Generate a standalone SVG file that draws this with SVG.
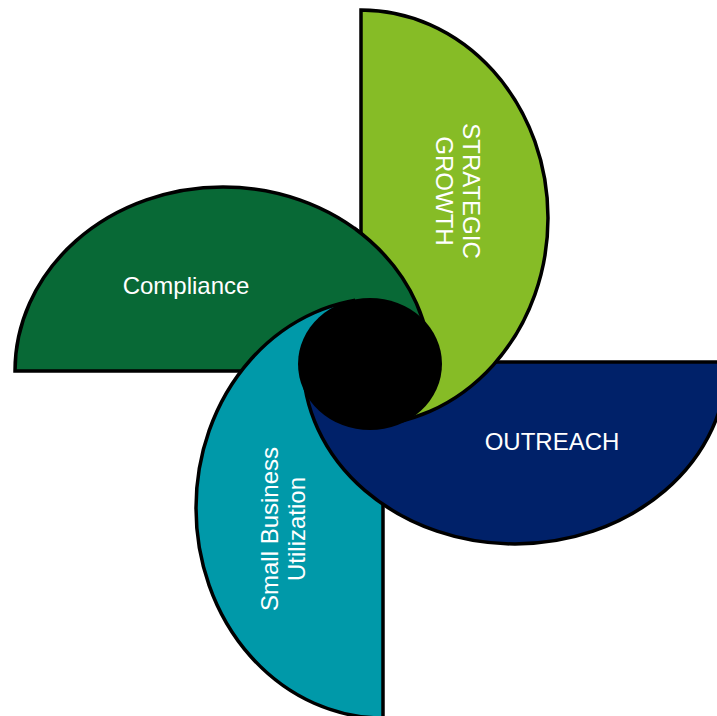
<svg xmlns="http://www.w3.org/2000/svg" xmlns:xlink="http://www.w3.org/1999/xlink" width="717" height="716" viewBox="0 0 717 716">
  <style>
    .blade { stroke: #000; stroke-width: 3.5; stroke-linejoin: miter; }
    .lbl { font-family: "Liberation Sans", Arial, sans-serif; font-size: 24px; fill: #fff; text-anchor: middle; }
  </style>
  <defs>
    <!-- half-ellipse blades, each flat edge pointing at the hub -->
    <path id="shape-compliance" d="M15,371 A208,184 0 0 1 431,371 Z"/>
    <path id="shape-small" d="M383,718 A187,210 0 0 1 383,298 Z"/>
    <path id="shape-outreach" d="M727,362 A212,182 0 0 1 303,362 Z"/>
    <path id="shape-growth" d="M361,10 A187,208 0 0 1 361,426 Z"/>
    <!-- right-hand strip used to lay the compliance blade back over the growth blade -->
    <clipPath id="clip-right">
      <rect x="355" y="0" width="362" height="400"/>
    </clipPath>
  </defs>

  <rect width="717" height="716" fill="#fff"/>

  <g id="compliance">
    <use xlink:href="#shape-compliance" class="blade" fill="#086936"/>
    <text class="lbl" x="186" y="294">Compliance</text>
  </g>

  <g id="small-business">
    <use xlink:href="#shape-small" class="blade" fill="#0099A9"/>
    <g transform="translate(291.5,529) rotate(-90)">
      <text class="lbl" x="0" y="-13.5">Small Business</text>
      <text class="lbl" x="0" y="13.5">Utilization</text>
    </g>
  </g>

  <g id="outreach">
    <use xlink:href="#shape-outreach" class="blade" fill="#002169"/>
    <text class="lbl" x="552" y="450">OUTREACH</text>
  </g>

  <g id="strategic-growth">
    <use xlink:href="#shape-growth" class="blade" fill="#86BC26"/>
    <g transform="translate(449.5,191) rotate(90)">
      <text class="lbl" x="0" y="-13.5">STRATEGIC</text>
      <text class="lbl" x="0" y="13.5">GROWTH</text>
    </g>
  </g>

  <!-- compliance blade overlaps the growth blade -->
  <use id="compliance-overlap" xlink:href="#shape-compliance" class="blade" fill="#086936" clip-path="url(#clip-right)"/>

  <g id="hub">
    <ellipse cx="370" cy="364" rx="72" ry="66" fill="#000"/>
  </g>
</svg>
